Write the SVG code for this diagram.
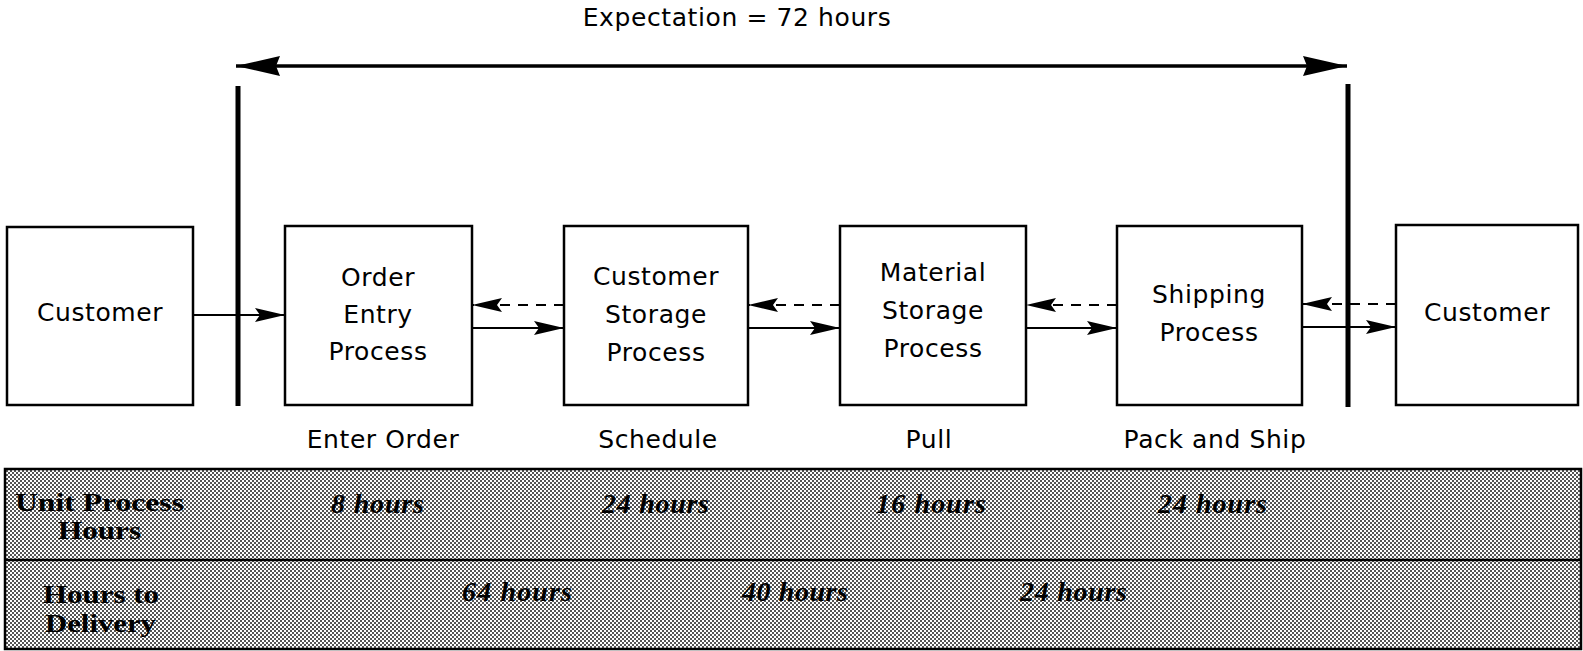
<svg xmlns="http://www.w3.org/2000/svg" width="1583" height="651" viewBox="0 0 1583 651">
  <style>
    .box { fill: #fff; stroke: #000; stroke-width: 2.5; }
    .lbl { font-family: "DejaVu Sans", "Liberation Sans", sans-serif; font-size: 25px; letter-spacing: 0.6px; fill: #000; text-anchor: middle; }
    .bar { stroke: #000; stroke-width: 5; }
    .flow { stroke: #000; stroke-width: 2.2; fill: none; }
    .ret { stroke: #000; stroke-width: 2.2; fill: none; stroke-dasharray: 10 8; }
    .tbl { font-family: "Liberation Serif", "Times New Roman", serif; font-weight: bold; font-size: 26px; fill: #000; }
    .val { font-family: "Liberation Serif", "Times New Roman", serif; font-weight: bold; font-style: italic; font-size: 28px; fill: #000; }
  </style>
  <defs>
    <marker id="head" viewBox="0 0 30 14" refX="30" refY="7" markerWidth="30" markerHeight="14" markerUnits="userSpaceOnUse" orient="auto">
      <path d="M0,0 L30,7 L0,14 L5,7 Z" fill="#000"/>
    </marker>
    <marker id="bighead" viewBox="0 0 44 20" refX="44" refY="10" markerWidth="44" markerHeight="20" markerUnits="userSpaceOnUse" orient="auto-start-reverse">
      <path d="M0,0 L44,10 L0,20 L4,10 Z" fill="#000"/>
    </marker>
    <pattern id="halftone" width="4" height="4" patternUnits="userSpaceOnUse">
      <rect width="4" height="4" fill="#fff"/>
      <rect x="0" y="0" width="2" height="2" fill="#555"/>
      <rect x="2" y="2" width="2" height="2" fill="#555"/>
    </pattern>
  </defs>

  <rect width="1583" height="651" fill="#fff"/>

  <!-- expectation span -->
  <g id="expectation">
    <text class="lbl" x="737" y="26">Expectation = 72 hours</text>
    <line x1="236" y1="66" x2="1347" y2="66" stroke="#000" stroke-width="3.5" marker-start="url(#bighead)" marker-end="url(#bighead)"/>
    <line class="bar" x1="238" y1="86" x2="238" y2="406"/>
    <line class="bar" x1="1348" y1="84" x2="1348" y2="407"/>
  </g>

  <!-- process nodes -->
  <g id="customer-in">
    <rect class="box" x="7" y="227" width="186" height="178"/>
    <text class="lbl" x="100" y="321">Customer</text>
  </g>
  <g id="order-entry">
    <rect class="box" x="285" y="226" width="187" height="179"/>
    <text class="lbl" x="378" y="286">Order</text>
    <text class="lbl" x="378" y="323">Entry</text>
    <text class="lbl" x="378" y="360">Process</text>
    <text class="lbl" x="383" y="448">Enter Order</text>
  </g>
  <g id="customer-storage">
    <rect class="box" x="564" y="226" width="184" height="179"/>
    <text class="lbl" x="656" y="285">Customer</text>
    <text class="lbl" x="656" y="323">Storage</text>
    <text class="lbl" x="656" y="361">Process</text>
    <text class="lbl" x="658" y="448">Schedule</text>
  </g>
  <g id="material-storage">
    <rect class="box" x="840" y="226" width="186" height="179"/>
    <text class="lbl" x="933" y="281">Material</text>
    <text class="lbl" x="933" y="319">Storage</text>
    <text class="lbl" x="933" y="357">Process</text>
    <text class="lbl" x="929" y="448">Pull</text>
  </g>
  <g id="shipping">
    <rect class="box" x="1117" y="226" width="185" height="179"/>
    <text class="lbl" x="1209" y="303">Shipping</text>
    <text class="lbl" x="1209" y="341">Process</text>
    <text class="lbl" x="1215" y="448">Pack and Ship</text>
  </g>
  <g id="customer-out">
    <rect class="box" x="1396" y="225" width="182" height="180"/>
    <text class="lbl" x="1487" y="321">Customer</text>
  </g>

  <!-- material flow (solid) and information flow (dashed) -->
  <g id="connectors">
    <line class="flow" x1="193" y1="315" x2="285" y2="315" marker-end="url(#head)"/>
    <line class="ret" x1="564" y1="305" x2="472" y2="305" marker-end="url(#head)"/>
    <line class="flow" x1="472" y1="328" x2="564" y2="328" marker-end="url(#head)"/>
    <line class="ret" x1="840" y1="305" x2="748" y2="305" marker-end="url(#head)"/>
    <line class="flow" x1="748" y1="328" x2="840" y2="328" marker-end="url(#head)"/>
    <line class="ret" x1="1117" y1="305" x2="1026" y2="305" marker-end="url(#head)"/>
    <line class="flow" x1="1026" y1="328" x2="1117" y2="328" marker-end="url(#head)"/>
    <line class="ret" x1="1396" y1="304" x2="1302" y2="304" marker-end="url(#head)"/>
    <line class="flow" x1="1302" y1="327" x2="1396" y2="327" marker-end="url(#head)"/>
  </g>

  <!-- hours table -->
  <g id="hours-table">
    <rect x="5" y="469" width="1576" height="180" fill="url(#halftone)" stroke="#000" stroke-width="2.5"/>
    <line x1="5" y1="560" x2="1581" y2="560" stroke="#000" stroke-width="2.5"/>
    <text class="tbl" x="15" y="511" textLength="169" lengthAdjust="spacingAndGlyphs">Unit Process</text>
    <text class="tbl" x="58" y="539" textLength="83" lengthAdjust="spacingAndGlyphs">Hours</text>
    <text class="tbl" x="43" y="603" textLength="116" lengthAdjust="spacingAndGlyphs">Hours to</text>
    <text class="tbl" x="45" y="632" textLength="111" lengthAdjust="spacingAndGlyphs">Delivery</text>
    <text class="val" x="331" y="513" textLength="93">8 hours</text>
    <text class="val" x="602" y="513" textLength="107">24 hours</text>
    <text class="val" x="876" y="513" textLength="110">16 hours</text>
    <text class="val" x="1158" y="513" textLength="109">24 hours</text>
    <text class="val" x="462" y="601" textLength="110">64 hours</text>
    <text class="val" x="742" y="601" textLength="106">40 hours</text>
    <text class="val" x="1020" y="601" textLength="107">24 hours</text>
  </g>
</svg>
